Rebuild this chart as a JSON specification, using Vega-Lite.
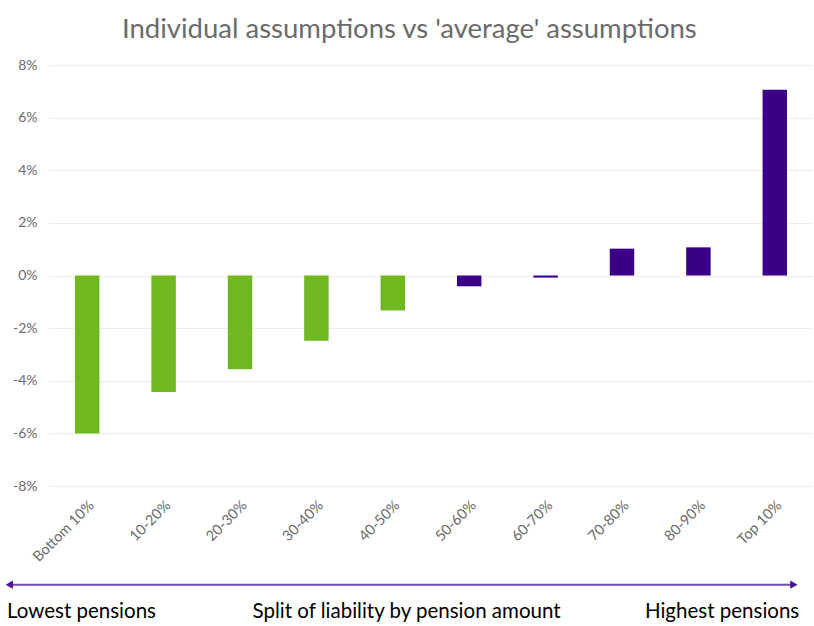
{
  "$schema": "https://vega.github.io/schema/vega-lite/v6.json",
  "width": 764,
  "height": 421,
  "padding": {"left": 5, "top": 15, "right": 0, "bottom": 0},
  "background": "white",
  "config": {"font": "Lato", "view": {"stroke": null}},
  "title": {"text": "Individual assumptions vs 'average' assumptions", "fontSize": 27.5, "fontWeight": "normal", "color": "#6b6b6b", "offset": 15, "frame": "bounds", "anchor": "middle"},
  "resolve": {"scale": {"x": "independent"}, "axis": {"x": "independent"}},
  "layer": [
    {
      "data": {"values": [
        {"band": "Bottom 10%", "value": -0.060, "side": "low"},
        {"band": "10-20%", "value": -0.0443, "side": "low"},
        {"band": "20-30%", "value": -0.0356, "side": "low"},
        {"band": "30-40%", "value": -0.0248, "side": "low"},
        {"band": "40-50%", "value": -0.0133, "side": "low"},
        {"band": "50-60%", "value": -0.0041, "side": "high"},
        {"band": "60-70%", "value": -0.0008, "side": "high"},
        {"band": "70-80%", "value": 0.0102, "side": "high"},
        {"band": "80-90%", "value": 0.0107, "side": "high"},
        {"band": "Top 10%", "value": 0.0706, "side": "high"}
      ]},
      "mark": {"type": "bar"},
      "encoding": {
        "x": {"field": "band", "type": "nominal", "sort": null,
          "scale": {"paddingInner": 0.68, "paddingOuter": 0.34},
          "axis": {"title": null, "labelAngle": -45, "labelColor": "#6b6b6b", "labelFontSize": 14.5, "domain": false, "ticks": false, "labelPadding": 12}},
        "y": {"field": "value", "type": "quantitative",
          "scale": {"domain": [-0.08, 0.08], "nice": false, "zero": false},
          "axis": {"title": null, "format": ".0%", "labelExpr": "replace(datum.label, '\u2212', '-')", "values": [-0.08, -0.06, -0.04, -0.02, 0, 0.02, 0.04, 0.06, 0.08], "labelColor": "#6b6b6b", "labelFontSize": 14, "domain": false, "ticks": false, "labelPadding": 12, "gridColor": "#ececec"}},
        "color": {"field": "side", "type": "nominal", "scale": {"domain": ["low", "high"], "range": ["#70b820", "#3a0088"]}, "legend": null}
      }
    },
    {
      "data": {"values": [{"from": -0.052, "to": 0.975, "level": -0.1175}]},
      "mark": {"type": "rule", "color": "#7048b8", "strokeWidth": 2},
      "encoding": {
        "x": {"field": "from", "type": "quantitative", "scale": {"domain": [0, 1], "nice": false, "zero": false}, "axis": null},
        "x2": {"field": "to"},
        "y": {"field": "level", "type": "quantitative", "scale": {"domain": [-0.08, 0.08], "nice": false, "zero": false}}
      }
    },
    {
      "data": {"values": [
        {"pos": -0.052, "level": -0.1175, "shape": "triangle-left"},
        {"pos": 0.975, "level": -0.1175, "shape": "triangle-right"}
      ]},
      "mark": {"type": "point", "filled": true, "opacity": 1, "color": "#4b0f9c", "size": 70},
      "encoding": {
        "x": {"field": "pos", "type": "quantitative", "scale": {"domain": [0, 1], "nice": false, "zero": false}, "axis": null},
        "y": {"field": "level", "type": "quantitative", "scale": {"domain": [-0.08, 0.08], "nice": false, "zero": false}},
        "shape": {"field": "shape", "type": "nominal", "scale": null}
      }
    },
    {
      "data": {"values": [{"label": "Lowest pensions", "pos": -0.055, "level": -0.128}]},
      "mark": {"type": "text", "align": "left", "baseline": "middle", "fontSize": 20.5, "color": "#000000"},
      "encoding": {
        "x": {"field": "pos", "type": "quantitative", "scale": {"domain": [0, 1], "nice": false, "zero": false}, "axis": null},
        "y": {"field": "level", "type": "quantitative", "scale": {"domain": [-0.08, 0.08], "nice": false, "zero": false}},
        "text": {"field": "label"}
      }
    },
    {
      "data": {"values": [{"label": "Split of liability by pension amount", "pos": 0.468, "level": -0.128}]},
      "mark": {"type": "text", "align": "center", "baseline": "middle", "fontSize": 20.5, "color": "#000000"},
      "encoding": {
        "x": {"field": "pos", "type": "quantitative", "scale": {"domain": [0, 1], "nice": false, "zero": false}, "axis": null},
        "y": {"field": "level", "type": "quantitative", "scale": {"domain": [-0.08, 0.08], "nice": false, "zero": false}},
        "text": {"field": "label"}
      }
    },
    {
      "data": {"values": [{"label": "Highest pensions", "pos": 0.982, "level": -0.128}]},
      "mark": {"type": "text", "align": "right", "baseline": "middle", "fontSize": 20.5, "color": "#000000"},
      "encoding": {
        "x": {"field": "pos", "type": "quantitative", "scale": {"domain": [0, 1], "nice": false, "zero": false}, "axis": null},
        "y": {"field": "level", "type": "quantitative", "scale": {"domain": [-0.08, 0.08], "nice": false, "zero": false}},
        "text": {"field": "label"}
      }
    }
  ]
}
